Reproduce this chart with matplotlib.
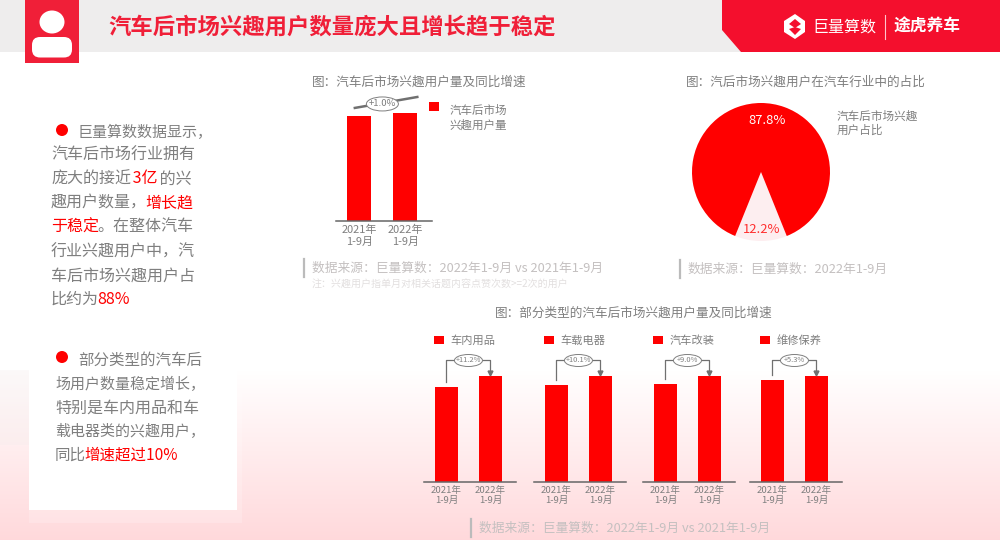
import numpy as np
import matplotlib
matplotlib.use("Agg")
import matplotlib.pyplot as plt
from matplotlib.patches import Ellipse, Polygon, Rectangle, Circle, FancyBboxPatch

plt.rcParams["font.family"] = ["Noto Sans CJK SC", "DejaVu Sans"]

W, H = 1000, 540
RED = "#ff0000"
GREY = "#7f7f7f"
SOURCE = "#c4c0c0"

# top bar chart
periods = ["2021年\n1-9月", "2022年\n1-9月"]
total_users = [97.8, 100]
total_growth = "+1.0%"
total_label = "汽车后市场\n兴趣用户量"

# pie chart
pie_values = [12.2, 87.8]
pie_label = "汽车后市场兴趣\n用户占比"

# bottom bar charts
categories = ["车内用品", "车载电器", "汽车改装", "维修保养"]
users_2021 = [89.6, 91.5, 92.5, 96.2]
users_2022 = [100, 100, 100, 100]
growth = ["+11.2%", "+10.1%", "+9.0%", "+5.3%"]
axis_left = [424, 534, 643, 750]

fig = plt.figure(figsize=(W / 100, H / 100), dpi=100)


def fs(px):
    return px * 72 / 100


def px_axes(left, top, width, height, zorder):
    a = fig.add_axes([left / W, 1 - (top + height) / H, width / W, height / H], zorder=zorder)
    a.patch.set_alpha(0)
    return a


# background, everything outside the charts is placed in pixels
bg = px_axes(0, 0, W, H, 0)
bg.set_xlim(0, W)
bg.set_ylim(H, 0)
bg.axis("off")
t = np.clip((np.arange(H) - 370) / (H - 370), 0, 1)
grad = np.ones((H, 1, 3))
grad[:, 0, 1] = 1 - 0.15 * t
grad[:, 0, 2] = 1 - 0.14 * t
bg.imshow(grad, extent=(0, W, H, 0), aspect="auto", zorder=0)
bg.add_patch(Rectangle((0, 0), W, 52, color="#eeeded", lw=0, zorder=1))
bg.add_patch(Polygon([(722, 0), (W, 0), (W, 52), (741, 52), (722, 30)], color="#f40f2d", lw=0, zorder=2))
bg.add_patch(Rectangle((25, 0), 54, 63, color="#f01f38", lw=0, zorder=2))
bg.add_patch(Ellipse((52, 22), 25, 23, color="white", lw=0, zorder=3))
bg.add_patch(FancyBboxPatch((40, 45), 24, 4.5, boxstyle="round,pad=8", color="white", lw=0, zorder=3))
bg.add_patch(Rectangle((0, 370), 29, 75, color="#f2ecec", lw=0, alpha=0.3, zorder=1))
bg.add_patch(Rectangle((29, 510), 208, 13, color="white", lw=0, alpha=0.2, zorder=1))
bg.add_patch(Rectangle((237, 390), 5, 133, color="white", lw=0, alpha=0.2, zorder=1))
bg.add_patch(Rectangle((29, 365), 208, 145, color="white", lw=0, zorder=1))

# logo
bg.add_patch(Polygon([(795, 14), (805, 21), (805, 32), (795, 39), (784, 32), (784, 21)], color="white", lw=0, zorder=3))
bg.add_patch(Polygon([(795, 19), (801, 24), (795, 28), (789, 24)], color="#f40f2d", lw=0, zorder=4))
bg.add_patch(Polygon([(795, 27), (801, 29), (795, 35), (789, 29)], color="#f40f2d", lw=0, zorder=4))
bg.text(812, 27, "巨量算数", color="white", fontsize=fs(16), va="center", zorder=5)
bg.plot([885, 885], [15, 39], color="#ffc4cc", lw=0.8, zorder=4)
bg.text(894, 27, "途虎养车", color="white", fontsize=fs(16.8), fontweight="bold", va="center", zorder=5)
bg.text(108, 27, "汽车后市场兴趣用户数量庞大且增长趋于稳定", color="#f01f38", fontsize=fs(22.35),
        fontweight="bold", va="center", zorder=5)


def runs(x, y, parts, px=16):
    # text of one line in several colours, one after the other
    rend = fig.canvas.get_renderer()
    for s, c in parts:
        txt = bg.text(x, y, s, color=c, fontsize=fs(px), va="center", zorder=5)
        x += txt.get_window_extent(rend).width - 2


bg.add_patch(Circle((62, 130), 6, color=RED, lw=0, zorder=5))
bg.add_patch(Circle((62, 357), 6, color=RED, lw=0, zorder=5))
runs(78, 132, [("巨量算数数据显示，", GREY)], 15)
runs(51, 155, [("汽车后市场行业拥有", GREY)])
runs(51, 179, [("庞大的接近", GREY), (" 3亿", RED), (" 的兴", GREY)])
runs(51, 203, [("趣用户数量，", GREY), ("增长趋", RED)])
runs(51, 227, [("于稳定", RED), ("。在整体汽车", GREY)])
runs(51, 252, [("行业兴趣用户中，汽", GREY)])
runs(51, 276, [("车后市场兴趣用户占", GREY)])
runs(51, 299, [("比约为", GREY), ("88%", RED)])
runs(78, 360, [("部分类型的汽车后", GREY)], 15.5)
runs(55, 384, [("场用户数量稳定增长，", GREY)], 15)
runs(55, 408, [("特别是车内用品和车", GREY)])
runs(55, 432, [("载电器类的兴趣用户，", GREY)], 15)
runs(55, 455, [("同比", GREY), ("增速超过10%", RED)], 15.5)

bg.text(312, 82, "图：汽车后市场兴趣用户量及同比增速", color=GREY, fontsize=fs(12.6), va="center", zorder=5)
bg.text(686, 82, "图：汽后市场兴趣用户在汽车行业中的占比", color=GREY, fontsize=fs(12.6), va="center", zorder=5)
bg.text(495, 313, "图：部分类型的汽车后市场兴趣用户量及同比增速", color=GREY, fontsize=fs(12.6), va="center", zorder=5)

# sources
for x, y0, s in [(312, 268, "数据来源：巨量算数：2022年1-9月 vs 2021年1-9月"),
                 (688, 269, "数据来源：巨量算数：2022年1-9月"),
                 (479, 528, "数据来源：巨量算数：2022年1-9月 vs 2021年1-9月")]:
    bg.plot([x - 8, x - 8], [y0 - 9, y0 + 9], color="#bbbbbb", lw=1.6, zorder=4)
    bg.text(x, y0, s, color=SOURCE, fontsize=fs(12.8), va="center", zorder=5)
bg.text(312, 284, "注：兴趣用户指单月对相关话题内容点赞次数>=2次的用户", color="#e2dfdf", fontsize=fs(10), va="center", zorder=5)
bg.set_xlim(0, W)
bg.set_ylim(H, 0)


def bars(left, width, values, tick_px, spacing):
    # baseline at the bottom of the axes, ylim 0-100 is the height of the taller bar
    a = left
    ax = px_axes(a[0], a[1], width, a[2], 2)
    ax.bar([0, 1], values, width=0.52, color=RED)
    ax.set_xlim(-0.51, 1.58)
    ax.set_ylim(0, 100)
    ax.set_yticks([])
    ax.set_xticks([0, 1])
    ax.set_xticklabels(periods, fontsize=fs(tick_px), color=GREY, linespacing=spacing)
    ax.tick_params(axis="x", length=0, pad=3)
    for s in ["top", "left", "right"]:
        ax.spines[s].set_visible(False)
    ax.spines["bottom"].set_color("#666666")
    ax.spines["bottom"].set_linewidth(1.1)
    return ax


def ellipse_label(ax, x, y, text, w, h, px):
    # size is given in pixels, so the ellipse goes through the pixel axes
    xp, yp = ax.transData.transform((x, y))
    xp, yp = bg.transData.inverted().transform((xp, yp))
    bg_top.add_patch(Ellipse((xp, yp), w, h, fc="white", ec=GREY, lw=0.7))
    bg_top.text(xp, yp, text, color=GREY, fontsize=fs(px), ha="center", va="center")


bg_top = px_axes(0, 0, W, H, 4)
bg_top.set_xlim(0, W)
bg_top.set_ylim(H, 0)
bg_top.axis("off")

# top bar chart
ax = bars((336, 113.3, 107.4), 96, total_users, 11, 1.25)
ax.plot([-0.1, 1.26], [105, 115.2], color="#707070", lw=1.8, clip_on=False)
ellipse_label(ax, 0.5, 108.7, total_growth, 32, 14, 9.5)
ax.bar([0], [0], color=RED, label=total_label)
leg = ax.legend(loc="upper left", bbox_to_anchor=(429 / W, 1 - 104 / H), bbox_transform=fig.transFigure, frameon=False,
                fontsize=fs(11.5), labelcolor=GREY, handlelength=0.9, handleheight=0.7, handletextpad=0.9,
                borderpad=0, borderaxespad=0, labelspacing=0, alignment="left")
leg.legend_handles[0].set_y(leg.legend_handles[0].get_y() + 9)

# pie
pie_ax = px_axes(761 - 70, 172 - 70, 140, 140, 2)
wedges, texts, autotexts = pie_ax.pie(pie_values, colors=["#fdeef0", RED], startangle=270 - 22, radius=1,
                                      autopct="%.1f%%", textprops={"fontsize": fs(13)})
pie_ax.set_xlim(-70 / 69, 70 / 69)
pie_ax.set_ylim(-70 / 69, 70 / 69)
autotexts[0].set_color("#ff3030")
autotexts[0].set_position((0.01, -0.83))
autotexts[1].set_color("white")
autotexts[1].set_position((0.09, 0.75))
bg.text(837, 123, pie_label, color=GREY, fontsize=fs(11.6), va="center", linespacing=1.15, zorder=5)

# bottom bar charts
for i, name in enumerate(categories):
    ax = bars((axis_left[i], 376, 105.7), 92, [users_2021[i], users_2022[i]], 9.5, 1.2)
    ax.bar([0], [0], color=RED, label=name)
    ax.legend(loc="center left", bbox_to_anchor=((axis_left[i] + 10) / W, 1 - 340.5 / H), bbox_transform=fig.transFigure,
              frameon=False, fontsize=fs(11.2), labelcolor=GREY, handlelength=0.85, handleheight=0.7,
              handletextpad=0.6, borderpad=0, borderaxespad=0)
    top = 100 + 15.5 / 105.7 * 100
    ax.plot([0, 0, 1, 1], [users_2021[i] + 4.6, top, top, 103], color="#707070", lw=0.9, clip_on=False)
    ax.plot([1], [102.5], marker="v", color="#707070", ms=3.5, clip_on=False)
    ellipse_label(ax, 0.5, top, growth[i], 28, 12, 7.5)

fig.savefig("out.png", dpi=100)
